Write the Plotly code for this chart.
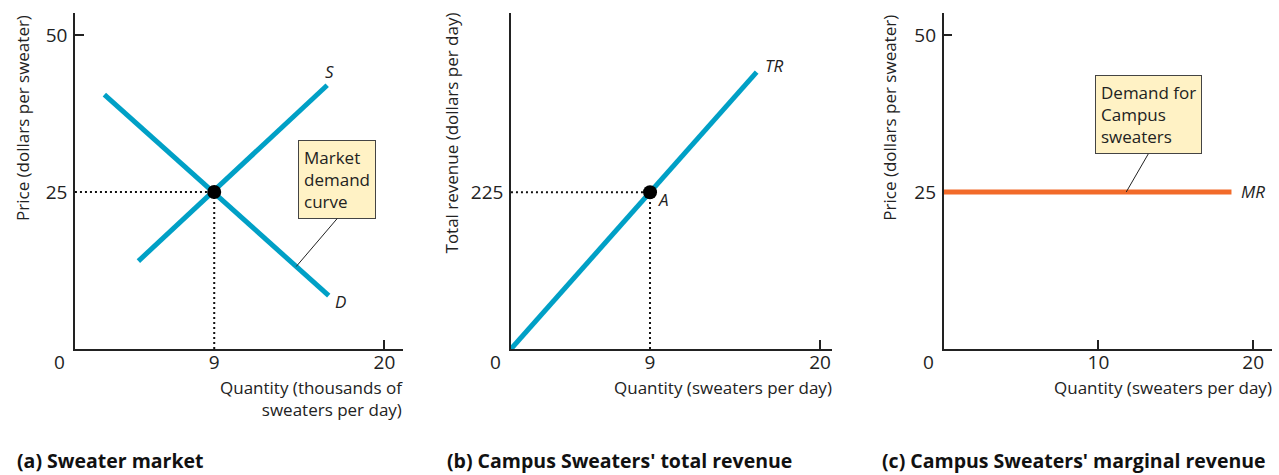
import numpy as np
import plotly.graph_objects as go

# ---- data ----
supply_q = [4.1, 16.3]
supply_p = [14.0, 42.0]
demand_q = [1.9, 16.4]
demand_p = [40.5, 8.5]
eq_q = 9
eq_p = 25
tr_q = [0, 15.9]
tr_v = [0, 397.5]
eq_tr = 225
mr_q = [0, 18.6]
mr_v = [25, 25]

a_xticks = [9, 20]
a_yticks = [25, 50]
b_xticks = [9, 20]
b_yticks = [225]
c_xticks = [10, 20]
c_yticks = [25, 50]

BLUE = "#00A0C6"
ORANGE = "#F26B2A"
BOXFILL = "#FFF2C5"
FONT = "Open Sans"
DOT = "2px,3px"

fig = go.Figure()

def line(x, y, xa, ya, color, width=5, dash=None):
    fig.add_trace(go.Scatter(x=x, y=y, xaxis=xa, yaxis=ya, mode="lines",
                             line=dict(color=color, width=width, dash=dash),
                             hoverinfo="skip", showlegend=False))

def point(x, y, xa, ya):
    fig.add_trace(go.Scatter(x=[x], y=[y], xaxis=xa, yaxis=ya, mode="markers",
                             marker=dict(color="black", size=14),
                             hoverinfo="skip", showlegend=False))

# panel a
line([0, eq_q], [eq_p, eq_p], "x", "y", "#111", 2, DOT)
line([eq_q, eq_q], [0, eq_p], "x", "y", "#111", 2, DOT)
line(demand_q, demand_p, "x", "y", BLUE)
line(supply_q, supply_p, "x", "y", BLUE)
point(eq_q, eq_p, "x", "y")

# panel b
line([0, eq_q], [eq_tr, eq_tr], "x2", "y2", "#111", 2, DOT)
line([eq_q, eq_q], [0, eq_tr], "x2", "y2", "#111", 2, DOT)
line(tr_q, tr_v, "x2", "y2", BLUE)
point(eq_q, eq_tr, "x2", "y2")

# panel c
line(mr_q, mr_v, "x3", "y3", ORANGE)

tickfont = dict(family=FONT, size=19, color="#222")
def xax(domain, rng, tickvals, minor):
    return dict(domain=domain, range=rng, showline=True, linecolor="#222", linewidth=1.5,
                showgrid=False, zeroline=False, tickmode="array", tickvals=tickvals,
                ticks="", tickfont=tickfont, ticklabelstandoff=-5,
                minor=dict(tickmode="array", tickvals=minor, ticks="inside", ticklen=9,
                           tickcolor="#222", tickwidth=1.5, showgrid=False),
                fixedrange=True)

def yax(anchor, rng, tickvals, minor):
    return dict(domain=[0.2653, 0.9726], range=rng, anchor=anchor, showline=True,
                linecolor="#222", linewidth=1.5, showgrid=False, zeroline=False,
                tickmode="array", tickvals=tickvals, ticks="", tickfont=tickfont,
                ticklabelstandoff=2,
                minor=dict(tickmode="array", tickvals=minor, ticks="inside", ticklen=9,
                           tickcolor="#222", tickwidth=1.5, showgrid=False),
                fixedrange=True)

fig.update_layout(
    width=1279, height=475, margin=dict(l=0, r=0, t=0, b=0),
    paper_bgcolor="white", plot_bgcolor="white", showlegend=False,
    xaxis=dict(xax([0.0586, 0.3151], [0, 21.2], a_xticks, [20]), anchor="y"),
    yaxis=yax("x", [0, 53.5], a_yticks, [50]),
    xaxis2=dict(xax([0.3995, 0.6503], [0, 20.76], b_xticks, [20]), anchor="y2"),
    yaxis2=yax("x2", [0, 482.5], b_yticks, []),
    xaxis3=dict(xax([0.7378, 0.9943], [0, 21.2], c_xticks, [10, 20]), anchor="y3"),
    yaxis3=yax("x3", [0, 53.5], c_yticks, [50]),
)

anns = []
tf = dict(family=FONT, size=17, color="#222")
ytf = dict(family=FONT, size=17, color="#222")
lab = dict(family=FONT, size=17, color="#222", style="italic")

# zero labels
for xr, yr in [("x", "y"), ("x2", "y2"), ("x3", "y3")]:
    anns.append(dict(text="0", xref=f"{xr} domain", yref=f"{yr} domain", x=0, y=0,
                     xanchor="center", yanchor="middle", xshift=-15, yshift=-13,
                     showarrow=False, font=tickfont))

# y titles
for xr, yr, txt, xs, ys in [("x", "y", "Price (dollars per sweater)", -53, 0),
                            ("x2", "y2", "Total revenue (dollars per day)", -59, 3),
                            ("x3", "y3", "Price (dollars per sweater)", -55, 0)]:
    anns.append(dict(text=txt, textangle=-90, xref=f"{xr} domain", yref=f"{yr} domain",
                     x=0, y=1, xanchor="center", yanchor="top", xshift=xs, yshift=ys,
                     showarrow=False, font=ytf))

# x titles
for xr, yr, txt in [("x", "y", "Quantity (thousands of<br>sweaters per day)"),
                    ("x2", "y2", "Quantity (sweaters per day)"),
                    ("x3", "y3", "Quantity (sweaters per day)")]:
    anns.append(dict(text=txt, xref=f"{xr} domain", yref=f"{yr} domain", x=1, y=0,
                     xanchor="right", yanchor="top", yshift=-25, xshift=2, align="right",
                     showarrow=False, font=tf))

# panel titles
for px, txt in [(15, "(a) Sweater market"), (445, "(b) Campus Sweaters' total revenue"),
                (880, "(c) Campus Sweaters' marginal revenue")]:
    anns.append(dict(text=f"<b>{txt}</b>", xref="paper", yref="paper", x=px / 1279,
                     y=15 / 475, xanchor="left", yanchor="middle", showarrow=False,
                     font=dict(family=FONT, size=19.5, color="#111", weight=800)))

# curve labels
anns += [
    dict(text="S", xref="x", yref="y", x=supply_q[1], y=supply_p[1], xshift=2, yshift=14,
         showarrow=False, font=lab),
    dict(text="D", xref="x", yref="y", x=demand_q[1], y=demand_p[1], xshift=12, yshift=-6,
         showarrow=False, font=lab),
    dict(text="TR", xref="x2", yref="y2", x=tr_q[1], y=tr_v[1], xshift=17, yshift=7,
         showarrow=False, font=lab),
    dict(text="A", xref="x2", yref="y2", x=eq_q, y=eq_tr, xshift=13, yshift=-7,
         showarrow=False, font=lab),
    dict(text="MR", xref="x3", yref="y3", x=mr_q[1], y=mr_v[1], xshift=22, yshift=0,
         showarrow=False, font=lab),
]

# callout boxes
dq = 14.3
dp = float(np.interp(dq, demand_q, demand_p))
boxfont = dict(family=FONT, size=17, color="#222")
anns.append(dict(text="Market<br>demand<br>curve", xref="x", yref="y", x=dq, y=dp,
                 ax=41, ay=-48, xanchor="center", yanchor="bottom", align="left",
                 showarrow=True, arrowhead=0, arrowwidth=1, arrowcolor="#222",
                 bgcolor=BOXFILL, bordercolor="#444", borderwidth=1, borderpad=5,
                 font=boxfont))
anns.append(dict(text="Demand for<br>Campus<br>sweaters", xref="x3", yref="y3", x=11.8,
                 y=mr_v[0], ax=22, ay=-38, xanchor="center", yanchor="bottom",
                 align="left", showarrow=True, arrowhead=0, arrowwidth=1,
                 arrowcolor="#222", bgcolor=BOXFILL, bordercolor="#444", borderwidth=1,
                 borderpad=5, font=boxfont))

fig.update_layout(annotations=anns)
fig.write_html("out.html", config={"displayModeBar": False},
               post_script="document.body.style.margin='0';")
